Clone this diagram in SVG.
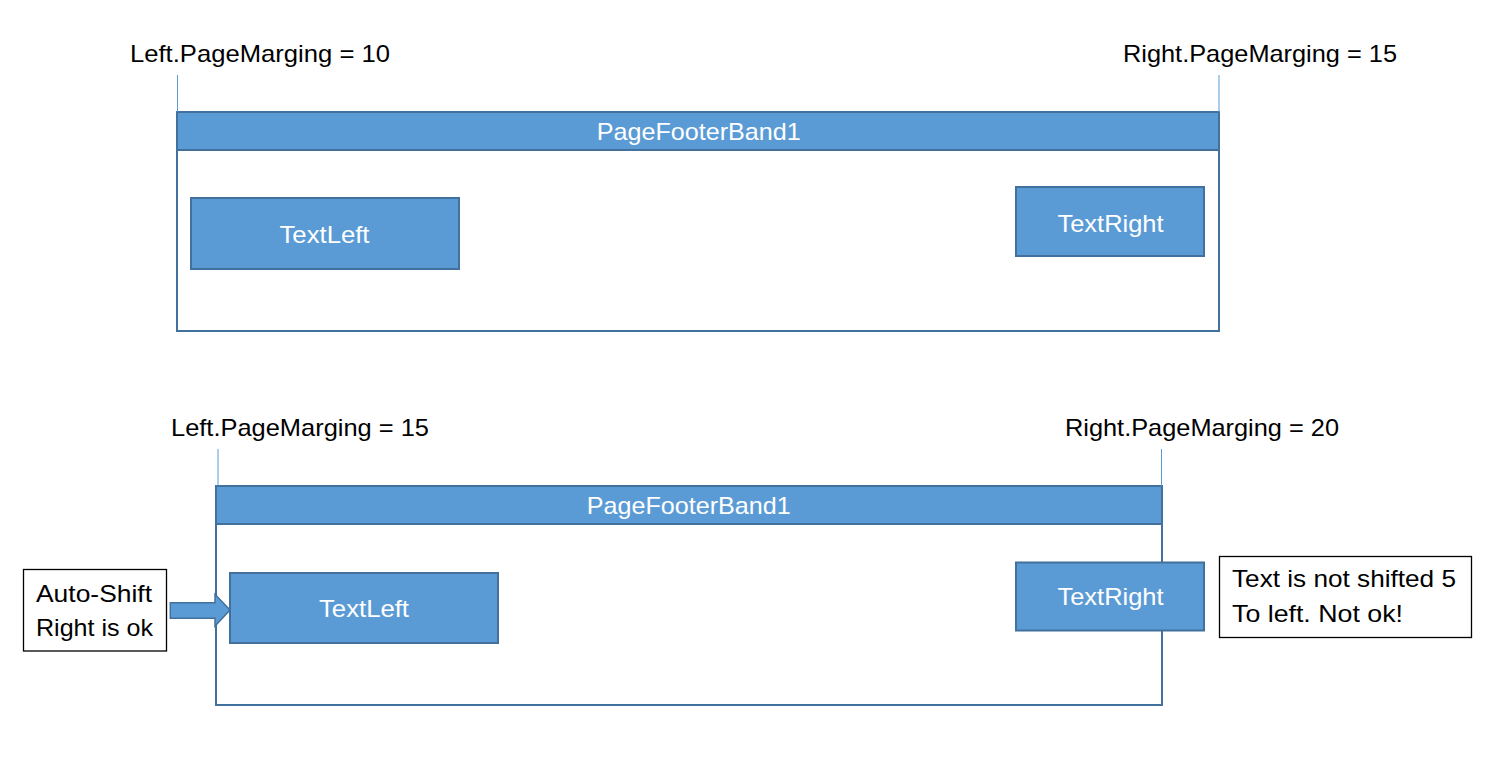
<svg xmlns="http://www.w3.org/2000/svg" width="1485" height="769" viewBox="0 0 1485 769">
<style>
text{font-family:"Liberation Sans",Arial,sans-serif;font-size:24px}
.lbl{fill:#000}
.wt{fill:#fff;text-anchor:middle}
.band{fill:#fff;stroke:#41719C;stroke-width:2}
.hdr{fill:#5B9BD5;stroke:#41719C;stroke-width:2}
.box{fill:#5B9BD5;stroke:#41719C;stroke-width:2}
.note{fill:#fff;stroke:#000;stroke-width:1.3}
.mline{stroke:#5B9BD5;stroke-width:1;fill:none}
</style>
<rect width="1485" height="769" fill="#fff"/>
<g id="label-left-10"><text class="lbl" x="130" y="62" textLength="260" lengthAdjust="spacingAndGlyphs">Left.PageMarging = 10</text></g>
<g id="label-right-15"><text class="lbl" x="1123" y="62" textLength="274" lengthAdjust="spacingAndGlyphs">Right.PageMarging = 15</text></g>
<g id="band1">
<rect class="band" x="177" y="112" width="1042" height="219"/>
<rect class="hdr" x="177" y="112" width="1042" height="38"/>
<text class="wt" x="698.7" y="139.5" textLength="204" lengthAdjust="spacingAndGlyphs">PageFooterBand1</text>
</g>
<g id="textleft1">
<rect class="box" x="191" y="198" width="268" height="71"/>
<text class="wt" x="324.5" y="242.5" textLength="90" lengthAdjust="spacingAndGlyphs">TextLeft</text>
</g>
<g id="textright1">
<rect class="box" x="1016" y="187" width="188" height="69"/>
<text class="wt" x="1110.5" y="231.5" textLength="106" lengthAdjust="spacingAndGlyphs">TextRight</text>
</g>
<g id="label-left-15"><text class="lbl" x="171" y="436" textLength="258" lengthAdjust="spacingAndGlyphs">Left.PageMarging = 15</text></g>
<g id="label-right-20"><text class="lbl" x="1065" y="436" textLength="274" lengthAdjust="spacingAndGlyphs">Right.PageMarging = 20</text></g>
<g id="band2">
<rect class="band" x="216" y="486" width="946" height="219"/>
<rect class="hdr" x="216" y="486" width="946" height="38"/>
<text class="wt" x="688.7" y="513.5" textLength="204" lengthAdjust="spacingAndGlyphs">PageFooterBand1</text>
</g>
<g id="textleft2">
<rect class="box" x="230" y="573" width="268" height="70"/>
<text class="wt" x="364" y="617" textLength="90" lengthAdjust="spacingAndGlyphs">TextLeft</text>
</g>
<g id="textright2">
<rect class="box" x="1016" y="562.5" width="188" height="68"/>
<text class="wt" x="1110.5" y="605" textLength="106" lengthAdjust="spacingAndGlyphs">TextRight</text>
</g>
<g id="note-autoshift">
<rect class="note" x="23.5" y="569.5" width="143" height="81.5"/>
<text class="lbl" x="36" y="601.5" textLength="116" lengthAdjust="spacingAndGlyphs">Auto-Shift</text>
<text class="lbl" x="36" y="635.5" textLength="117" lengthAdjust="spacingAndGlyphs">Right is ok</text>
</g>
<g id="note-notshifted">
<rect class="note" x="1219.5" y="556.5" width="252" height="81"/>
<text class="lbl" x="1232" y="586.5" textLength="224" lengthAdjust="spacingAndGlyphs">Text is not shifted 5</text>
<text class="lbl" x="1232" y="621.5" textLength="171" lengthAdjust="spacingAndGlyphs">To left. Not ok!</text>
</g>
<g id="connectors">
<line class="mline" x1="177.5" y1="75" x2="177.5" y2="112"/>
<line class="mline" x1="1219" y1="75" x2="1219" y2="112"/>
<line class="mline" x1="218" y1="449" x2="218" y2="486"/>
<line class="mline" x1="1161.5" y1="449" x2="1161.5" y2="486"/>
<polygon points="170.3,602.7 215,602.7 215,594.3 230,610 215,626 215,618.3 170.3,618.3" fill="#5B9BD5" stroke="#41719C" stroke-width="1.5"/>
</g>
</svg>
